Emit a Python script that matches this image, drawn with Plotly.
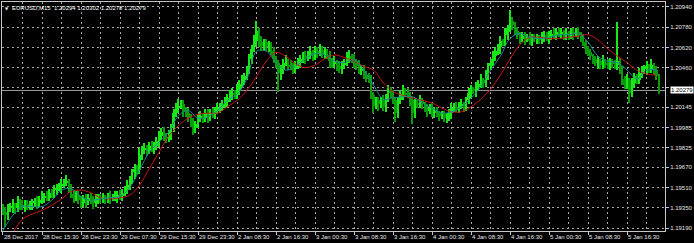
import plotly.graph_objects as go

# ---------------- data (EURUSD, 30-min candles) ----------------
opens = [
 1.1935,1.1932,1.1929,1.1935,1.1936,1.1937,1.1935,1.1939,1.1937,1.1936,
 1.1938,1.1936,1.1936,1.1939,1.1940,1.1939,1.1941,1.1943,1.1944,1.1943,
 1.1947,1.1946,1.1949,1.1951,1.1952,1.1954,1.1955,1.1956,1.1951,1.1946,
 1.1943,1.1945,1.1941,1.1939,1.1942,1.1940,1.1943,1.1941,1.1939,1.1942,
 1.1943,1.1942,1.1943,1.1942,1.1944,1.1943,1.1943,1.1943,1.1945,1.1944,
 1.1947,1.1949,1.1953,1.1957,1.1963,1.1966,1.1965,1.1977,1.1981,1.1982,
 1.1981,1.1984,1.1982,1.1984,1.1988,1.1992,1.1995,1.1991,1.1990,1.1993,
 1.1998,1.2010,1.2014,1.2016,1.2017,1.2012,1.2010,1.2006,1.2003,1.1998,
 1.2001,1.2006,1.2008,1.2006,1.2010,1.2007,1.2010,1.2009,1.2012,1.2014,
 1.2015,1.2017,1.2019,1.2022,1.2025,1.2026,1.2024,1.2028,1.2033,1.2036,
 1.2039,1.2044,1.2053,1.2061,1.2067,1.2075,1.2066,1.2063,1.2066,1.2062,
 1.2064,1.2059,1.2053,1.2050,1.2042,1.2044,1.2050,1.2051,1.2048,1.2047,
 1.2045,1.2048,1.2050,1.2053,1.2055,1.2054,1.2056,1.2058,1.2055,1.2059,
 1.2058,1.2060,1.2057,1.2059,1.2056,1.2051,1.2049,1.2050,1.2047,1.2045,
 1.2048,1.2050,1.2054,1.2055,1.2053,1.2051,1.2047,1.2044,1.2045,1.2040,
 1.2039,1.2037,1.2024,1.2016,1.2020,1.2017,1.2020,1.2015,1.2022,1.2028,
 1.2026,1.2020,1.2010,1.2020,1.2025,1.2028,1.2026,1.2025,1.2020,1.2010,
 1.2018,1.2017,1.2020,1.2017,1.2014,1.2012,1.2014,1.2010,1.2012,1.2010,
 1.2008,1.2009,1.2006,1.2007,1.2010,1.2014,1.2015,1.2014,1.2016,1.2017,
 1.2015,1.2020,1.2026,1.2029,1.2028,1.2031,1.2033,1.2036,1.2034,1.2040,
 1.2047,1.2050,1.2055,1.2059,1.2062,1.2067,1.2066,1.2072,1.2077,1.2083,
 1.2080,1.2075,1.2072,1.2069,1.2071,1.2069,1.2070,1.2067,1.2070,1.2069,
 1.2070,1.2068,1.2070,1.2072,1.2070,1.2071,1.2073,1.2072,1.2074,1.2073,
 1.2074,1.2071,1.2073,1.2072,1.2074,1.2073,1.2074,1.2072,1.2070,1.2066,
 1.2061,1.2058,1.2055,1.2053,1.2050,1.2051,1.2048,1.2051,1.2050,1.2048,
 1.2051,1.2049,1.2048,1.2051,1.2044,1.2037,1.2032,1.2036,1.2026,1.2034,
 1.2039,1.2036,1.2042,1.2044,1.2045,1.2047,1.2045,1.2048,1.2044,1.2039,
]
highs = [
 1.1938,1.1936,1.1938,1.1939,1.1942,1.1939,1.1944,1.1942,1.1941,1.1941,
 1.1941,1.1940,1.1942,1.1943,1.1944,1.1944,1.1948,1.1947,1.1948,1.1950,
 1.1950,1.1953,1.1954,1.1955,1.1958,1.1958,1.1961,1.1958,1.1954,1.1949,
 1.1948,1.1948,1.1944,1.1945,1.1946,1.1946,1.1947,1.1944,1.1946,1.1946,
 1.1946,1.1947,1.1945,1.1947,1.1948,1.1946,1.1948,1.1948,1.1949,1.1950,
 1.1952,1.1957,1.1960,1.1966,1.1970,1.1969,1.1982,1.1984,1.1986,1.1985,
 1.1987,1.1988,1.1987,1.1991,1.1996,1.1998,1.1999,1.1994,1.1997,1.2001,
 1.2013,1.2018,1.2021,1.2020,1.2020,1.2015,1.2014,1.2009,1.2006,1.2004,
 1.2009,1.2012,1.2010,1.2013,1.2013,1.2013,1.2014,1.2015,1.2018,1.2018,
 1.2020,1.2023,1.2025,1.2028,1.2030,1.2028,1.2033,1.2036,1.2040,1.2042,
 1.2047,1.2057,1.2064,1.2072,1.2083,1.2077,1.2071,1.2069,1.2069,1.2067,
 1.2066,1.2062,1.2055,1.2052,1.2048,1.2053,1.2056,1.2053,1.2052,1.2050,
 1.2051,1.2054,1.2056,1.2058,1.2059,1.2059,1.2063,1.2060,1.2063,1.2062,
 1.2065,1.2063,1.2062,1.2061,1.2059,1.2054,1.2055,1.2052,1.2051,1.2051,
 1.2053,1.2058,1.2060,1.2057,1.2057,1.2053,1.2052,1.2048,1.2048,1.2043,
 1.2042,1.2040,1.2027,1.2023,1.2023,1.2023,1.2024,1.2025,1.2032,1.2031,
 1.2028,1.2023,1.2023,1.2028,1.2032,1.2030,1.2030,1.2027,1.2023,1.2021,
 1.2020,1.2024,1.2022,1.2019,1.2017,1.2017,1.2018,1.2015,1.2015,1.2012,
 1.2012,1.2012,1.2010,1.2013,1.2018,1.2018,1.2019,1.2019,1.2021,1.2019,
 1.2023,1.2030,1.2032,1.2031,1.2035,1.2036,1.2041,1.2038,1.2044,1.2050,
 1.2053,1.2059,1.2062,1.2065,1.2071,1.2069,1.2077,1.2080,1.2092,1.2086,
 1.2082,1.2078,1.2074,1.2074,1.2074,1.2073,1.2074,1.2073,1.2073,1.2073,
 1.2072,1.2074,1.2075,1.2074,1.2075,1.2076,1.2077,1.2077,1.2077,1.2077,
 1.2076,1.2077,1.2075,1.2077,1.2077,1.2077,1.2078,1.2074,1.2073,1.2068,
 1.2063,1.2061,1.2057,1.2055,1.2055,1.2053,1.2056,1.2053,1.2053,1.2054,
 1.2053,1.2052,1.2082,1.2054,1.2047,1.2039,1.2041,1.2038,1.2038,1.2042,
 1.2041,1.2046,1.2047,1.2048,1.2051,1.2049,1.2053,1.2050,1.2047,1.2041,
]
lows = [
 1.1929,1.1920,1.1925,1.1932,1.1931,1.1930,1.1932,1.1933,1.1933,1.1932,
 1.1933,1.1933,1.1933,1.1936,1.1934,1.1936,1.1938,1.1939,1.1940,1.1940,
 1.1943,1.1943,1.1945,1.1948,1.1947,1.1951,1.1952,1.1947,1.1943,1.1939,
 1.1940,1.1938,1.1935,1.1936,1.1935,1.1937,1.1938,1.1934,1.1936,1.1938,
 1.1939,1.1939,1.1938,1.1939,1.1938,1.1940,1.1940,1.1939,1.1941,1.1940,
 1.1944,1.1946,1.1949,1.1954,1.1958,1.1961,1.1962,1.1973,1.1978,1.1976,
 1.1978,1.1979,1.1978,1.1981,1.1983,1.1989,1.1988,1.1986,1.1987,1.1989,
 1.1995,1.2007,1.2010,1.2013,1.2007,1.2007,1.2003,1.1999,1.1993,1.1994,
 1.1998,1.2003,1.2002,1.2003,1.2002,1.2004,1.2006,1.2005,1.2009,1.2010,
 1.2012,1.2014,1.2015,1.2019,1.2020,1.2021,1.2021,1.2024,1.2030,1.2032,
 1.2036,1.2041,1.2049,1.2058,1.2062,1.2062,1.2059,1.2059,1.2059,1.2058,
 1.2056,1.2050,1.2046,1.2027,1.2036,1.2041,1.2047,1.2044,1.2044,1.2041,
 1.2042,1.2045,1.2046,1.2050,1.2049,1.2051,1.2053,1.2051,1.2052,1.2054,
 1.2055,1.2054,1.2053,1.2053,1.2046,1.2046,1.2046,1.2043,1.2042,1.2041,
 1.2045,1.2047,1.2050,1.2050,1.2046,1.2044,1.2041,1.2040,1.2037,1.2035,
 1.2034,1.2021,1.2010,1.2013,1.2012,1.2014,1.2012,1.2011,1.2019,1.2022,
 1.2017,1.2003,1.2006,1.2017,1.2020,1.2023,1.2022,1.2016,1.2001,1.2006,
 1.2014,1.2014,1.2013,1.2011,1.2007,1.2009,1.2007,1.2006,1.2007,1.2004,
 1.2005,1.2003,1.2002,1.2004,1.2005,1.2011,1.2011,1.2010,1.2013,1.2011,
 1.2012,1.2017,1.2022,1.2025,1.2023,1.2028,1.2030,1.2030,1.2031,1.2036,
 1.2044,1.2047,1.2051,1.2056,1.2057,1.2063,1.2063,1.2068,1.2074,1.2076,
 1.2072,1.2069,1.2065,1.2066,1.2064,1.2066,1.2064,1.2063,1.2066,1.2065,
 1.2065,1.2065,1.2066,1.2067,1.2065,1.2068,1.2069,1.2068,1.2070,1.2069,
 1.2068,1.2068,1.2068,1.2069,1.2068,1.2070,1.2069,1.2066,1.2063,1.2057,
 1.2055,1.2052,1.2049,1.2047,1.2045,1.2045,1.2045,1.2046,1.2045,1.2044,
 1.2046,1.2045,1.2044,1.2041,1.2032,1.2029,1.2029,1.2018,1.2023,1.2030,
 1.2033,1.2033,1.2038,1.2041,1.2040,1.2042,1.2042,1.2040,1.2036,1.2025,
]
closes = [
 1.1932,1.1929,1.1935,1.1936,1.1937,1.1935,1.1939,1.1937,1.1936,1.1938,
 1.1936,1.1936,1.1939,1.1940,1.1939,1.1941,1.1943,1.1944,1.1943,1.1947,
 1.1946,1.1949,1.1951,1.1952,1.1954,1.1955,1.1956,1.1951,1.1946,1.1943,
 1.1945,1.1941,1.1939,1.1942,1.1940,1.1943,1.1941,1.1939,1.1942,1.1943,
 1.1942,1.1943,1.1942,1.1944,1.1943,1.1943,1.1943,1.1945,1.1944,1.1947,
 1.1949,1.1953,1.1957,1.1963,1.1966,1.1965,1.1977,1.1981,1.1982,1.1981,
 1.1984,1.1982,1.1984,1.1988,1.1992,1.1995,1.1991,1.1990,1.1993,1.1998,
 1.2010,1.2014,1.2016,1.2017,1.2012,1.2010,1.2006,1.2003,1.1998,1.2001,
 1.2006,1.2008,1.2006,1.2010,1.2007,1.2010,1.2009,1.2012,1.2014,1.2015,
 1.2017,1.2019,1.2022,1.2025,1.2026,1.2024,1.2028,1.2033,1.2036,1.2039,
 1.2044,1.2053,1.2061,1.2067,1.2075,1.2066,1.2063,1.2066,1.2062,1.2064,
 1.2059,1.2053,1.2050,1.2042,1.2044,1.2050,1.2051,1.2048,1.2047,1.2045,
 1.2048,1.2050,1.2053,1.2055,1.2054,1.2056,1.2058,1.2055,1.2059,1.2058,
 1.2060,1.2057,1.2059,1.2056,1.2051,1.2049,1.2050,1.2047,1.2045,1.2048,
 1.2050,1.2054,1.2055,1.2053,1.2051,1.2047,1.2044,1.2045,1.2040,1.2039,
 1.2037,1.2024,1.2016,1.2020,1.2017,1.2020,1.2015,1.2022,1.2028,1.2026,
 1.2020,1.2010,1.2020,1.2025,1.2028,1.2026,1.2025,1.2020,1.2010,1.2018,
 1.2017,1.2020,1.2017,1.2014,1.2012,1.2014,1.2010,1.2012,1.2010,1.2008,
 1.2009,1.2006,1.2007,1.2010,1.2014,1.2015,1.2014,1.2016,1.2017,1.2015,
 1.2020,1.2026,1.2029,1.2028,1.2031,1.2033,1.2036,1.2034,1.2040,1.2047,
 1.2050,1.2055,1.2059,1.2062,1.2067,1.2066,1.2072,1.2077,1.2083,1.2080,
 1.2075,1.2072,1.2069,1.2071,1.2069,1.2070,1.2067,1.2070,1.2069,1.2070,
 1.2068,1.2070,1.2072,1.2070,1.2071,1.2073,1.2072,1.2074,1.2073,1.2074,
 1.2071,1.2073,1.2072,1.2074,1.2073,1.2074,1.2072,1.2070,1.2066,1.2061,
 1.2058,1.2055,1.2053,1.2050,1.2051,1.2048,1.2051,1.2050,1.2048,1.2051,
 1.2049,1.2048,1.2051,1.2044,1.2037,1.2032,1.2036,1.2026,1.2034,1.2039,
 1.2036,1.2042,1.2044,1.2045,1.2047,1.2045,1.2048,1.2044,1.2039,1.20279,
]
# moving averages, one reading every 4 candles
ma_slow = [
 None,1.1915,1.1926,1.1930,1.1933,1.1937,1.1942,1.1948,1.1949,1.1947,
 1.1943,1.1942,1.1943,1.1945,1.1953,1.1966,1.1979,1.1992,1.2000,1.2006,
 1.2009,1.2010,1.2010,1.2015,1.2020,1.2028,1.2039,1.2051,1.2058,1.2055,
 1.2049,1.2046,1.2048,1.2053,1.2056,1.2054,1.2051,1.2047,1.2044,1.2034,
 1.2027,1.2024,1.2022,1.2020,1.2018,1.2014,1.2011,1.2011,1.2015,1.2021,
 1.2029,1.2040,1.2053,1.2064,1.2070,1.2070,1.2069,1.2069,1.2070,1.2071,
 1.2072,1.2068,1.2061,1.2055,1.2050,1.2044,1.2041,1.2040,
]
ma_fast = [
 1.1917,1.1929,1.1936,1.1936,1.1936,1.1941,1.1949,1.1950,1.1944,1.1941,
 1.1942,1.1943,1.1944,1.1951,1.1965,1.1979,1.1987,1.1995,1.2008,1.2012,
 1.2006,1.2007,1.2012,1.2020,1.2025,1.2037,1.2059,1.2059,1.2050,1.2044,
 1.2047,1.2053,1.2057,1.2056,1.2051,1.2050,1.2052,1.2044,1.2032,1.2021,
 1.2022,1.2023,1.2023,1.2018,1.2014,1.2010,1.2011,1.2015,1.2022,1.2031,
 1.2044,1.2055,1.2069,1.2073,1.2070,1.2069,1.2070,1.2072,1.2072,1.2073,
 1.2066,1.2055,1.2051,1.2050,1.2044,1.2037,1.2044,1.2044,
]
time_labels = ["28 Dec 2017", "28 Dec 15:30", "28 Dec 23:30", "29 Dec 07:30", "29 Dec 15:30",
               "29 Dec 23:30", "2 Jan 08:30", "2 Jan 16:30", "3 Jan 00:30", "3 Jan 08:30",
               "3 Jan 16:30", "4 Jan 00:30", "4 Jan 08:30", "4 Jan 16:30", "5 Jan 00:30",
               "5 Jan 08:30", "5 Jan 16:30"]
price_ticks = [1.20940, 1.20780, 1.20620, 1.20460, 1.20300, 1.20145, 1.19985,
               1.19825, 1.19670, 1.19510, 1.19350, 1.19190]
price_labels = ["1.20940", "1.20780", "1.20620", "1.20460", "", "1.20145", "1.19985",
                "1.19825", "1.19670", "1.19510", "1.19350", "1.19190"]
last_price = 1.20279
header = "EURUSD,M15  1.20294 1.20302 1.20278 1.20279"

assert len(opens) == len(highs) == len(lows) == len(closes)
n = len(closes)
idx = list(range(n))
ma_x = list(range(0, 4 * len(ma_slow), 4))
label_step = 16  # candles between time labels

BULL = "#19e619"
BEAR = "#0b9a0b"
FONT = "Liberation Sans"
GRID = "#a8a8a8"
DASH = "2px,3px"

cols = [BULL if c >= o else BEAR for o, c in zip(opens, closes)]
body_base = [min(o, c) for o, c in zip(opens, closes)]
body_h = [max(abs(c - o), 0.00004) for o, c in zip(opens, closes)]
wick_h = [h - l for h, l in zip(highs, lows)]

fig = go.Figure()
fig.add_trace(go.Bar(x=idx, y=wick_h, base=lows, width=0.5, marker=dict(color=cols, line=dict(width=0)),
                     hoverinfo="skip"))
fig.add_trace(go.Bar(x=idx, y=body_h, base=body_base, width=1.0, marker=dict(color=cols, line=dict(width=0)),
                     hoverinfo="skip"))
fig.add_trace(go.Scatter(x=ma_x, y=ma_slow, mode="lines", line=dict(color="#c81414", width=1, shape="spline"),
                         connectgaps=False, hoverinfo="skip"))
fig.add_trace(go.Scatter(x=ma_x, y=ma_fast, mode="lines", line=dict(color="#1a8a8f", width=1, shape="spline"),
                         hoverinfo="skip"))

grid = dict(showgrid=True, gridcolor=GRID, gridwidth=1, griddash=DASH)

annotations = []
for k, t in enumerate(time_labels):
    annotations.append(dict(x=k * label_step, y=0, xref="x", yref="paper", text=t, showarrow=False,
                            xanchor="left", yanchor="top", xshift=-1, yshift=-1,
                            font=dict(family=FONT, size=6, color="#e8e8e8")))
annotations.append(dict(x=1, y=last_price, xref="paper", yref="y", text=str(last_price),
                        showarrow=False, xanchor="left", yanchor="middle", xshift=5,
                        bgcolor="#ffffff", borderpad=0, font=dict(family=FONT, size=6, color="#000000")))
annotations.append(dict(x=0, y=1, xref="paper", yref="paper", text=header, showarrow=False,
                        xanchor="left", yanchor="top", xshift=8, yshift=-1,
                        font=dict(family=FONT, size=6, color="#ffffff")))
annotations.append(dict(x=0, y=1, xref="paper", yref="paper", text="▼", showarrow=False,
                        xanchor="left", yanchor="top", xshift=1, yshift=-2,
                        font=dict(family="DejaVu Sans", size=4, color="#ffffff")))

fig.update_layout(
    width=694, height=243,
    margin=dict(l=1, r=27, t=1, b=12),
    paper_bgcolor="#000000", plot_bgcolor="#000000",
    showlegend=False, barmode="overlay", bargap=0,
    annotations=annotations,
    shapes=[dict(type="line", xref="paper", x0=0, x1=1, yref="y", y0=last_price, y1=last_price,
                 line=dict(color="#9a9a9a", width=1), layer="below")],
    xaxis=dict(range=[-0.408, 271.53], tickmode="linear", tick0=0, dtick=label_step,
               ticks="outside", ticklen=3, tickcolor="#c8c8c8", showticklabels=False,
               showline=True, linecolor="#c8c8c8", linewidth=1, mirror=True, zeroline=False,
               minor=dict(tick0=0, dtick=label_step // 2, showgrid=True, gridcolor=GRID,
                          griddash=DASH, ticks=""),
               layer="below traces", **grid),
    yaxis=dict(range=[1.191664, 1.209794], side="right", tickmode="array",
               tickvals=price_ticks, ticktext=price_labels, ticks="outside", ticklen=3,
               tickcolor="#c8c8c8", tickfont=dict(family=FONT, size=6, color="#e8e8e8"),
               showline=True, linecolor="#c8c8c8", linewidth=1, mirror=True, zeroline=False,
               layer="below traces", **grid),
)

fig.write_html("out.html")
